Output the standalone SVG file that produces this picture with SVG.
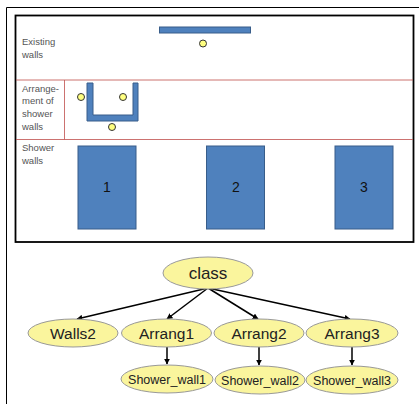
<svg xmlns="http://www.w3.org/2000/svg" width="419" height="404" viewBox="0 0 419 404">
<style>
.lbl{font-family:"Liberation Sans","Open Sans",sans-serif;font-size:9.5px;fill:#555}
.wall{fill:#4F81BD;stroke:#385D8A;stroke-width:1}
.dot{fill:#FFFF80;stroke:#333;stroke-width:1}
.red{stroke:#C0504D;stroke-width:1;opacity:0.8}
.num{font-family:"Liberation Sans","Open Sans",sans-serif;font-size:14px;fill:#111;text-anchor:middle}
.node{fill:#FAF59D;stroke:#999;stroke-width:1}
.nt{font-family:"Liberation Sans","Open Sans",sans-serif;fill:#222;text-anchor:middle}
.edge{stroke:#000;stroke-width:1.5;fill:none;marker-end:url(#ah)}
</style>
<defs>
<marker id="ah" viewBox="0 0 10 10" refX="9" refY="5" markerWidth="4" markerHeight="4" orient="auto">
<path d="M0,0 L10,5 L0,10 z" fill="#000"/>
</marker>
</defs>
<rect width="419" height="404" fill="#fff"/>
<path d="M6.5,404 V7.5 H419" fill="none" stroke="#000" stroke-width="1"/>
<g id="table">
<rect x="15.5" y="15.5" width="398" height="226.5" fill="#fff" stroke="#000" stroke-width="1.8"/>
<line class="red" x1="16" y1="80" x2="413" y2="80"/>
<line class="red" x1="16" y1="139.5" x2="413" y2="139.5"/>
<line class="red" x1="64.5" y1="80" x2="64.5" y2="139.5"/>
<text class="lbl" x="22" y="45">Existing</text>
<text class="lbl" x="22" y="58">walls</text>
<text class="lbl" x="22" y="92">Arrange-</text>
<text class="lbl" x="22" y="104">ment of</text>
<text class="lbl" x="22" y="116.5">shower</text>
<text class="lbl" x="22" y="129.5">walls</text>
<text class="lbl" x="22" y="151">Shower</text>
<text class="lbl" x="22" y="164">walls</text>
</g>
<g id="existing-wall">
<rect class="wall" x="159.5" y="27" width="91" height="6"/>
<circle class="dot" cx="203" cy="43.5" r="3.5"/>
</g>
<g id="arrangement">
<path class="wall" d="M87,83 H93 V115 H133 V83 H138 V121 H87 Z"/>
<circle class="dot" cx="81" cy="97" r="3.5"/>
<circle class="dot" cx="123" cy="97" r="3.5"/>
<circle class="dot" cx="112" cy="127" r="3.5"/>
</g>
<g id="wall1"><rect class="wall" x="78" y="146" width="58" height="83"/><text class="num" x="107" y="192">1</text></g>
<g id="wall2"><rect class="wall" x="206.5" y="146" width="58" height="83"/><text class="num" x="236" y="192">2</text></g>
<g id="wall3"><rect class="wall" x="335" y="146" width="58" height="83"/><text class="num" x="364" y="192">3</text></g>
<g id="connectors">
<line class="edge" x1="208" y1="288" x2="77" y2="319"/>
<line class="edge" x1="208" y1="288" x2="167" y2="319"/>
<line class="edge" x1="208" y1="288" x2="258" y2="319"/>
<line class="edge" x1="208" y1="288" x2="350" y2="319"/>
<line class="edge" x1="167" y1="346" x2="167" y2="364"/>
<line class="edge" x1="259" y1="347" x2="259" y2="365"/>
<line class="edge" x1="352" y1="346" x2="352" y2="365"/>
</g>
<g id="class"><ellipse class="node" cx="208" cy="273" rx="45" ry="16"/><text class="nt" x="208" y="279" font-size="17">class</text></g>
<g id="Walls2"><ellipse class="node" cx="73" cy="333" rx="45" ry="14"/><text class="nt" x="73" y="339" font-size="15.5">Walls2</text></g>
<g id="Arrang1"><ellipse class="node" cx="166.5" cy="333" rx="45" ry="14"/><text class="nt" x="166.5" y="339" font-size="15.5">Arrang1</text></g>
<g id="Arrang2"><ellipse class="node" cx="259" cy="333" rx="45" ry="14"/><text class="nt" x="259" y="339" font-size="15.5">Arrang2</text></g>
<g id="Arrang3"><ellipse class="node" cx="352" cy="333" rx="46" ry="14"/><text class="nt" x="352" y="339" font-size="15.5">Arrang3</text></g>
<g id="Shower_wall1"><ellipse class="node" cx="167" cy="379" rx="46" ry="14"/><text class="nt" x="167" y="383.5" font-size="12.5">Shower_wall1</text></g>
<g id="Shower_wall2"><ellipse class="node" cx="260" cy="380" rx="45" ry="14"/><text class="nt" x="260" y="384.5" font-size="12.5">Shower_wall2</text></g>
<g id="Shower_wall3"><ellipse class="node" cx="352" cy="380" rx="46" ry="14"/><text class="nt" x="352" y="384.5" font-size="12.5">Shower_wall3</text></g>
</svg>
